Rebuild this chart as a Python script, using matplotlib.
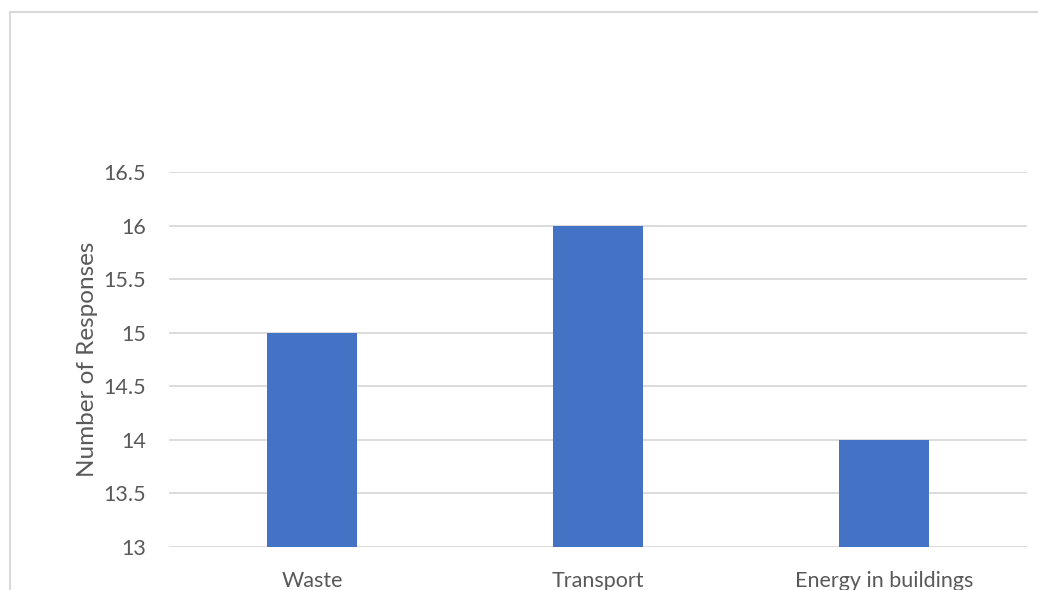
import matplotlib.pyplot as plt
from matplotlib.patches import Rectangle

# data
categories = ["Waste", "Transport", "Energy in buildings"]
responses = [15, 16, 14]
yticks = [13, 13.5, 14, 14.5, 15, 15.5, 16, 16.5]
ytick_labels = ["13", "13.5", "14", "14.5", "15", "15.5", "16", "16.5"]

plt.rcParams['font.family'] = ['Lato', 'DejaVu Sans']
txt = '#595959'

fig = plt.figure(figsize=(10.38, 5.9), dpi=100)
ax = fig.add_axes([169/1038, 1 - 547/590, (1027 - 169)/1038, (547 - 172)/590])

x = range(len(categories))
ax.bar(x, responses, width=0.315, color='#4472C4', zorder=3)

ax.set_xlim(-0.5, 2.5)
ax.set_ylim(13, 16.5)
ax.set_yticks(yticks)
ax.set_yticklabels(ytick_labels)
ax.set_xticks(list(x))
ax.set_xticklabels(categories)
ax.tick_params(length=0, labelsize=15.5, colors=txt)
ax.tick_params(axis='y', pad=16.5)
ax.tick_params(axis='x', pad=17)
ax.grid(axis='y', color='#d9d9d9', linewidth=1.3, zorder=0)
for s in ax.spines.values():
    s.set_visible(False)
ax.set_ylabel('Number of Responses', fontsize=17.5, color=txt, labelpad=4)

# chart border
fig.patches.append(Rectangle((10/1038, -0.1), 1.2, 1 - 12/590 + 0.1,
                             transform=fig.transFigure, fill=False,
                             edgecolor='#d9d9d9', linewidth=1.5))

fig.savefig('out.png', dpi=100)
